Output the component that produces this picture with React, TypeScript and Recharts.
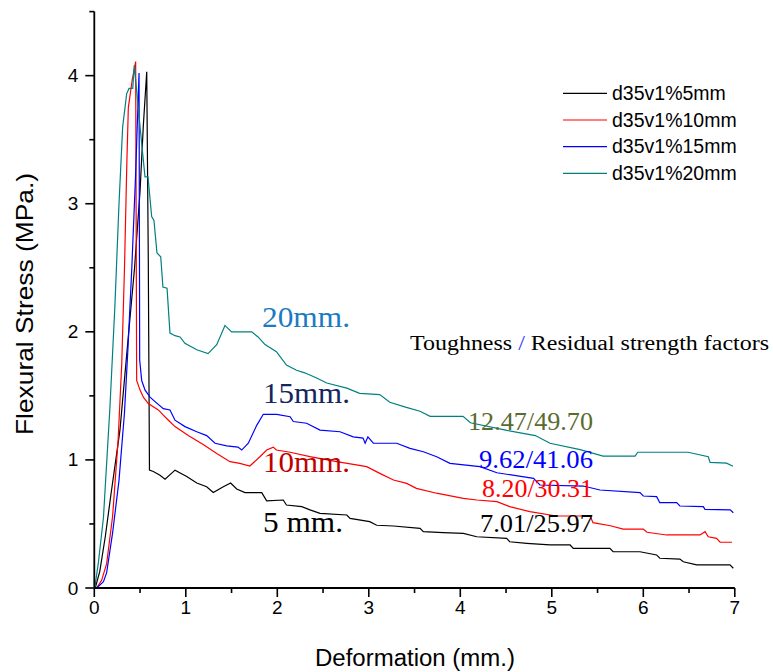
import { LineChart, Line, XAxis, YAxis } from "recharts"

// [deformation mm, stress MPa]
const d35v1_5mm: [number, number][] = [
  [0.01, 0], [0.06, 0.13], [0.12, 0.4], [0.18, 0.72], [0.28, 1.23], [0.37, 1.95],
  [0.44, 2.5], [0.5, 3.1], [0.535, 3.6], [0.573, 4.03], [0.59, 2.56], [0.603, 0.92],
  [0.645, 0.91], [0.718, 0.88], [0.773, 0.85], [0.882, 0.92], [1.01, 0.87], [1.12, 0.82],
  [1.228, 0.79], [1.3, 0.745], [1.41, 0.79], [1.49, 0.82], [1.556, 0.773], [1.647, 0.745],
  [1.83, 0.745], [1.884, 0.68], [2.065, 0.687], [2.1, 0.648], [2.267, 0.635], [2.357, 0.61],
  [2.467, 0.583], [2.76, 0.57], [2.795, 0.544], [3.01, 0.518], [3.086, 0.49], [3.27, 0.484],
  [3.56, 0.466], [3.596, 0.44], [3.814, 0.432], [4.033, 0.427], [4.18, 0.4], [4.507, 0.388],
  [4.54, 0.361], [4.726, 0.349], [4.98, 0.336], [5.2, 0.336], [5.235, 0.31], [5.635, 0.31],
  [5.67, 0.283], [5.964, 0.283], [6.146, 0.258], [6.18, 0.232], [6.4, 0.226], [6.437, 0.205],
  [6.584, 0.18], [6.947, 0.18], [6.984, 0.154]
]

const d35v1_10mm: [number, number][] = [
  [0.026, 0], [0.08, 0.06], [0.135, 0.19], [0.2, 0.56], [0.26, 1.15], [0.3, 1.75],
  [0.33, 2.5], [0.355, 3.3], [0.372, 3.75], [0.415, 3.97], [0.452, 4.11], [0.463, 1.62],
  [0.5, 1.545], [0.536, 1.49], [0.59, 1.44], [0.7, 1.39], [0.754, 1.35], [0.81, 1.31],
  [0.882, 1.26], [1.027, 1.19], [1.19, 1.12], [1.338, 1.05], [1.483, 0.986], [1.59, 0.973],
  [1.7, 0.952], [1.81, 1.025], [1.884, 1.077], [1.956, 1.1], [1.99, 1.077], [2.14, 1.06],
  [2.357, 1.025], [2.65, 0.986], [2.977, 0.947], [3.12, 0.895], [3.27, 0.843], [3.414, 0.817],
  [3.52, 0.778], [3.74, 0.74], [4.033, 0.7], [4.18, 0.687], [4.4, 0.674], [4.54, 0.635],
  [4.76, 0.596], [5.05, 0.562], [5.42, 0.562], [5.45, 0.51], [5.64, 0.486], [5.78, 0.46],
  [6.0, 0.46], [6.04, 0.435], [6.255, 0.414], [6.62, 0.414], [6.675, 0.44], [6.71, 0.4],
  [6.8, 0.388], [6.84, 0.357], [6.97, 0.357]
]

const d35v1_15mm: [number, number][] = [
  [0.026, 0], [0.1, 0.05], [0.135, 0.12], [0.2, 0.43], [0.27, 0.84], [0.33, 1.37],
  [0.37, 1.9], [0.41, 2.5], [0.45, 3.2], [0.489, 4.02], [0.496, 1.78], [0.518, 1.62],
  [0.555, 1.545], [0.609, 1.49], [0.664, 1.455], [0.754, 1.4], [0.827, 1.39], [0.882, 1.31],
  [0.991, 1.26], [1.12, 1.22], [1.228, 1.19], [1.32, 1.13], [1.447, 1.11], [1.57, 1.1],
  [1.611, 1.077], [1.683, 1.13], [1.775, 1.27], [1.847, 1.356], [1.993, 1.356], [2.14, 1.337],
  [2.175, 1.3], [2.32, 1.286], [2.467, 1.233], [2.685, 1.22], [2.83, 1.18], [2.937, 1.17],
  [2.96, 1.13], [2.99, 1.18], [3.05, 1.13], [3.305, 1.13], [3.45, 1.09], [3.596, 1.064],
  [3.742, 1.025], [3.887, 0.973], [4.215, 0.947], [4.4, 0.9], [4.8, 0.856], [4.87, 0.804],
  [5.344, 0.796], [5.527, 0.765], [5.964, 0.744], [6.0, 0.718], [6.146, 0.713], [6.18, 0.666],
  [6.365, 0.666], [6.4, 0.64], [6.656, 0.635], [6.674, 0.614], [6.95, 0.61], [6.984, 0.588]
]

const d35v1_20mm: [number, number][] = [
  [0.005, 0], [0.045, 0.2], [0.1, 0.55], [0.17, 1.4], [0.225, 2.2], [0.27, 3.0],
  [0.31, 3.6], [0.354, 3.86], [0.38, 3.9], [0.42, 3.9], [0.437, 4.08], [0.5, 3.6],
  [0.554, 3.21], [0.587, 3.21], [0.627, 2.9], [0.652, 2.87], [0.685, 2.615], [0.726, 2.586],
  [0.75, 2.35], [0.795, 2.34], [0.827, 1.99], [0.882, 1.97], [0.937, 1.96], [0.99, 1.91],
  [1.12, 1.86], [1.243, 1.83], [1.338, 1.9], [1.428, 2.05], [1.5, 2.0], [1.72, 2.0],
  [1.79, 1.96], [1.866, 1.9], [1.99, 1.845], [2.1, 1.74], [2.21, 1.7], [2.3, 1.68],
  [2.43, 1.64], [2.54, 1.6], [2.76, 1.56], [2.9, 1.52], [3.12, 1.51], [3.23, 1.45],
  [3.41, 1.41], [3.56, 1.38], [3.67, 1.34], [4.03, 1.34], [4.11, 1.29], [4.51, 1.23],
  [4.82, 1.19], [4.98, 1.13], [5.31, 1.08], [5.56, 1.03], [5.91, 1.03], [5.94, 1.06],
  [6.49, 1.06], [6.71, 1.025], [6.73, 0.98], [6.91, 0.975], [6.98, 0.95]
]

const seriesNames = ["d35v1%5mm", "d35v1%10mm", "d35v1%15mm", "d35v1%20mm"]
const seriesColors = ["#000000", "#ff0000", "#0000ff", "#008080"]
const seriesData = [d35v1_5mm, d35v1_10mm, d35v1_15mm, d35v1_20mm]

const xTicks = [0, 0.5, 1, 1.5, 2, 2.5, 3, 3.5, 4, 4.5, 5, 5.5, 6, 6.5, 7]
const yTicks = [0, 0.5, 1, 1.5, 2, 2.5, 3, 3.5, 4, 4.5]

const curveLabels = ["5 mm.", "10mm.", "15mm.", "20mm."]
const factorLabels = ["7.01/25.97", "8.20/30.31", "9.62/41.06", "12.47/49.70"]

const sans = "'Liberation Sans', Arial, sans-serif"
const serif = "'Liberation Serif', 'Times New Roman', serif"

function YTick(props: any) {
  const { x, y, payload } = props
  const major = Number.isInteger(payload.value)
  return (
    <g>
      <line x1={x - (major ? 9 : 5)} x2={x} y1={y} y2={y} stroke="#000" strokeWidth={1.6} />
      {major && (
        <text x={x - 16} y={y + 6.5} textAnchor="end" fontFamily={sans} fontSize={19} fill="#000">
          {payload.value}
        </text>
      )}
    </g>
  )
}

function XTick(props: any) {
  const { x, y, payload } = props
  const major = Number.isInteger(payload.value)
  return (
    <g>
      <line x1={x} x2={x} y1={y} y2={y + (major ? 9 : 5)} stroke="#000" strokeWidth={1.6} />
      {major && (
        <text x={x} y={y + 26} textAnchor="middle" fontFamily={sans} fontSize={19} fill="#000">
          {payload.value}
        </text>
      )}
    </g>
  )
}

export default function App() {
  const toRows = (pts: [number, number][]) => pts.map(([x, y]) => ({ x, y }))

  return (
    <div style={{ position: "absolute", left: 0, top: 0, width: 773, height: 672, background: "#fff" }}>
      <LineChart width={773} height={672} margin={{ top: 11.6, right: 38.2, left: 0, bottom: 0 }}>
        <XAxis
          dataKey="x"
          type="number"
          domain={[0, 7]}
          ticks={xTicks}
          interval={0}
          height={84}
          tickSize={0}
          tickMargin={0}
          tickLine={false}
          tick={<XTick />}
          axisLine={{ stroke: "#000", strokeWidth: 1.8 }}
        />
        <YAxis
          type="number"
          domain={[0, 4.5]}
          ticks={yTicks}
          interval={0}
          width={94.3}
          tickSize={0}
          tickMargin={0}
          tickLine={false}
          tick={<YTick />}
          axisLine={{ stroke: "#000", strokeWidth: 1.8 }}
        />
        {seriesData.map((pts, i) => (
          <Line
            key={seriesNames[i]}
            data={toRows(pts)}
            dataKey="y"
            name={seriesNames[i]}
            type="linear"
            stroke={seriesColors[i]}
            strokeWidth={1.2}
            dot={false}
            activeDot={false}
            isAnimationActive={false}
          />
        ))}
      </LineChart>

      <svg
        width={773}
        height={672}
        style={{ position: "absolute", left: 0, top: 0, pointerEvents: "none" }}
      >
        <text
          x={33}
          y={304}
          transform="rotate(-90, 33, 304)"
          textAnchor="middle"
          fontFamily={sans}
          fontSize={24}
          textLength={262}
          lengthAdjust="spacingAndGlyphs"
        >
          Flexural Stress (MPa.)
        </text>
        <text
          x={415}
          y={666}
          textAnchor="middle"
          fontFamily={sans}
          fontSize={23}
          textLength={200}
          lengthAdjust="spacingAndGlyphs"
        >
          Deformation (mm.)
        </text>

        {seriesNames.map((name, i) => (
          <g key={name}>
            <line x1={563} x2={607} y1={93.3 + i * 26.7} y2={93.3 + i * 26.7} stroke={seriesColors[i]} strokeWidth={1.2} />
            <text x={612} y={100 + i * 26.7} fontFamily={sans} fontSize={19.5} fill="#000">
              {name}
            </text>
          </g>
        ))}

        <text x={262} y={327} fontFamily={serif} fontSize={29} fill="#1b7bc2" textLength={88} lengthAdjust="spacingAndGlyphs">
          {curveLabels[3]}
        </text>
        <text x={263} y={403} fontFamily={serif} fontSize={29} fill="#13265e" textLength={87} lengthAdjust="spacingAndGlyphs">
          {curveLabels[2]}
        </text>
        <text x={263} y={472} fontFamily={serif} fontSize={29} fill="#c00000" textLength={87} lengthAdjust="spacingAndGlyphs">
          {curveLabels[1]}
        </text>
        <text x={263} y={532} fontFamily={serif} fontSize={29} fill="#000" textLength={80} lengthAdjust="spacingAndGlyphs">
          {curveLabels[0]}
        </text>

        <text x={410} y={350} fontFamily={serif} fontSize={20.5} fill="#000" textLength={359} lengthAdjust="spacingAndGlyphs">
          Toughness <tspan fill="#3a3aff">/</tspan> Residual strength factors
        </text>

        <text x={468} y={430} fontFamily={serif} fontSize={25} fill="#5a6b2f" textLength={125} lengthAdjust="spacingAndGlyphs">
          {factorLabels[3]}
        </text>
        <text x={479} y={468} fontFamily={serif} fontSize={25} fill="#0000ff" textLength={114} lengthAdjust="spacingAndGlyphs">
          {factorLabels[2]}
        </text>
        <text x={482} y={497} fontFamily={serif} fontSize={25} fill="#ff0000" textLength={111} lengthAdjust="spacingAndGlyphs">
          {factorLabels[1]}
        </text>
        <text x={480} y={532} fontFamily={serif} fontSize={25} fill="#000" textLength={113} lengthAdjust="spacingAndGlyphs">
          {factorLabels[0]}
        </text>
      </svg>
    </div>
  )
}
